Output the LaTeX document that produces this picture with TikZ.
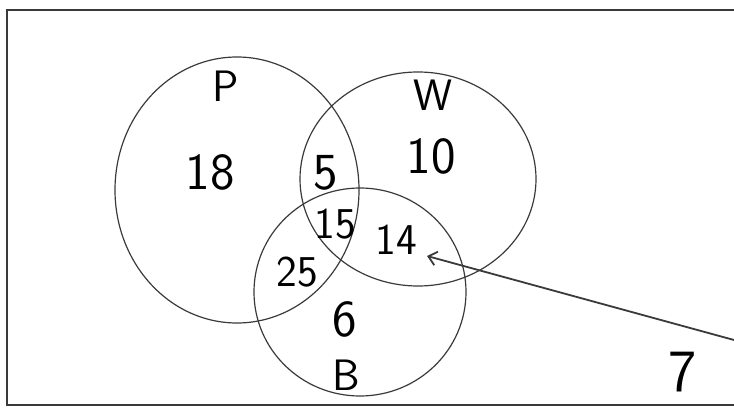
\documentclass[tikz,border=0pt]{standalone}
\usetikzlibrary{arrows.meta}

\definecolor{pencil}{HTML}{3A3A3A}

\begin{document}
\begin{tikzpicture}[x=0.5pt,y=0.5pt,
    setline/.style={pencil, line width=0.6pt},
    numlabel/.style={font=\sffamily\fontsize{26}{26}\selectfont, inner sep=0pt},
    smalllabel/.style={font=\sffamily\fontsize{22}{22}\selectfont, inner sep=0pt},
    setlabel/.style={font=\sffamily\fontsize{22}{22}\selectfont, inner sep=0pt}]

\useasboundingbox (0,0) rectangle (734,413);

% Frame (open on the right)
\draw[pencil, line width=1pt] (734,403) -- (7,403) -- (7,8) -- (734,8);

% Set centres
\coordinate (cP) at (237,223);
\coordinate (cW) at (418,234);
\coordinate (cB) at (360,121);

% Circles
\draw[setline] (cP) ellipse (122 and 133);
\draw[setline] (cW) ellipse (118 and 107);
\draw[setline] (cB) ellipse (106 and 104);

% Set names
\node[setlabel] (lP) at (226,327) {P};
\node[setlabel] (lW) at (433,318) {W};
\node[setlabel] (lB) at (346,38) {B};

% Region counts
\node[numlabel] (n18) at (210,241) {18};
\node[numlabel] (n5)  at (326,240) {5};
\node[numlabel] (n10) at (431,257) {10};
\node[smalllabel] (n15) at (335,189) {15};
\node[smalllabel] (n14) at (396,173) {14};
\node[smalllabel] (n25) at (297,141) {25};
\node[numlabel] (n6)  at (345,94) {6};
\node[numlabel, font=\sffamily\fontsize{30}{30}\selectfont] (n7) at (683,41) {7};

% Pointer to 14
\coordinate (tail) at (734,73);
\draw[pencil, line width=0.9pt, -{Straight Barb[length=4pt,width=7pt]}]
    (tail) -- ([xshift=5pt,yshift=-8pt]n14.east);

\end{tikzpicture}
\end{document}
